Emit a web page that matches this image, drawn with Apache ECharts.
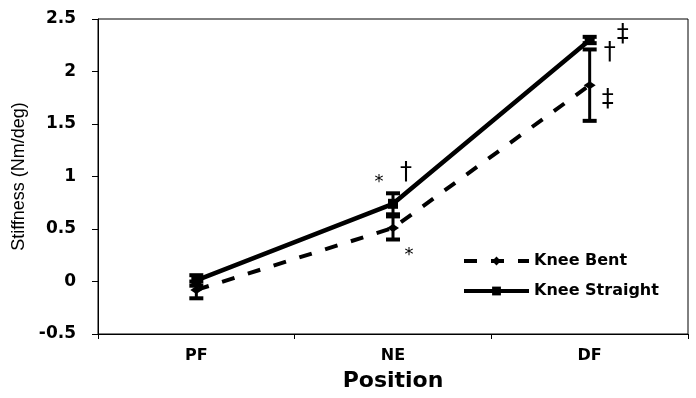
<!DOCTYPE html>
<html>
<head>
<meta charset="utf-8">
<script src="https://cdn.jsdelivr.net/npm/echarts@6/dist/echarts.min.js"></script>
<style>html,body{margin:0;padding:0;background:#fff;}#c{width:696px;height:398px;}</style>
</head>
<body>
<div id="c"></div>
<script>
// ---- data ----
var categories = ['PF', 'NE', 'DF'];
var bentMean = [-0.08, 0.51, 1.87];
var bentErr = [0.08, 0.11, 0.34];
var straightMean = [0.01, 0.74, 2.30];
var straightErr = [0.05, 0.10, 0.03];
var yTicks = [-0.5, 0, 0.5, 1, 1.5, 2, 2.5];
// significance markers: category, anchor value, symbol
var markCats = ['NE', 'NE', 'NE', 'DF', 'DF', 'DF'];
var markVals = [0.94, 1.04, 0.25, 2.35, 2.18, 1.73];
var markText = ['*', '\u2020', '*', '\u2021', '\u2020', '\u2021'];
var markDx = [-14, 13, 16, 33, 20, 18];

var chart = echarts.init(document.getElementById('c'));

function errData(mean, err) {
  return mean.map(function (m, i) { return [i, m - err[i], m + err[i]]; });
}
function errRender(capW) {
  return function (params, api) {
    var i = api.value(0);
    var lo = api.coord([i, api.value(1)]);
    var hi = api.coord([i, api.value(2)]);
    var st = { stroke: '#000', lineWidth: 3 };
    var cst = { stroke: '#000', lineWidth: 4 };
    return {
      type: 'group',
      children: [
        { type: 'line', shape: { x1: lo[0], y1: lo[1], x2: hi[0], y2: hi[1] }, style: st },
        { type: 'line', shape: { x1: lo[0] - capW / 2, y1: lo[1], x2: lo[0] + capW / 2, y2: lo[1] }, style: cst },
        { type: 'line', shape: { x1: hi[0] - capW / 2, y1: hi[1], x2: hi[0] + capW / 2, y2: hi[1] }, style: cst }
      ]
    };
  };
}

var markData = markCats.map(function (c, i) {
  return [categories.indexOf(c), markVals[i], markText[i], markDx[i]];
});

var option = {
  animation: false,
  backgroundColor: '#fff',
  grid: { left: 98, right: 8, top: 19, bottom: 64, show: true, borderColor: '#000', borderWidth: 1, backgroundColor: 'transparent' },
  legend: {
    data: ['Knee Bent', 'Knee Straight'],
    orient: 'vertical',
    left: 462,
    top: 253,
    padding: 0,
    itemWidth: 65,
    itemHeight: 11,
    itemGap: 14,
    lineStyle: { width: 4 },
    textStyle: { fontFamily: 'DejaVu Sans', fontWeight: 'bold', fontSize: 16, color: '#000' }
  },
  xAxis: {
    type: 'category',
    data: categories,
    boundaryGap: true,
    axisLine: { onZero: false, lineStyle: { color: '#000', width: 1 } },
    axisTick: { show: true, length: 5, lineStyle: { color: '#000' } },
    axisLabel: { margin: 14, fontFamily: 'DejaVu Sans', fontWeight: 'bold', fontSize: 16, color: '#000' },
    name: 'Position',
    nameLocation: 'middle',
    nameGap: 36,
    nameTextStyle: { fontFamily: 'DejaVu Sans', fontWeight: 'bold', fontSize: 22, color: '#000' },
    splitLine: { show: false }
  },
  yAxis: {
    type: 'value',
    min: yTicks[0],
    max: yTicks[yTicks.length - 1],
    interval: 0.5,
    axisLine: { show: true, lineStyle: { color: '#000', width: 1 } },
    axisTick: { show: true, length: 6, lineStyle: { color: '#000' } },
    axisLabel: { margin: 22, fontFamily: 'DejaVu Sans', fontWeight: 'bold', fontSize: 17, color: '#000' },
    splitLine: { show: false },
    name: 'Stiffness (Nm/deg)',
    nameLocation: 'middle',
    nameGap: 69,
    nameTextStyle: { fontFamily: 'Liberation Sans', fontSize: 18, color: '#000' }
  },
  series: [
    {
      name: 'Knee Bent',
      type: 'line',
      data: bentMean,
      symbol: 'diamond',
      symbolSize: [12, 8],
      itemStyle: { color: '#000' },
      lineStyle: { color: '#000', width: 4, type: [13, 14] },
      z: 2
    },
    {
      name: 'bentErr',
      type: 'custom',
      data: errData(bentMean, bentErr),
      renderItem: errRender(14),
      z: 3
    },
    {
      name: 'Knee Straight',
      type: 'line',
      data: straightMean,
      symbol: 'rect',
      symbolSize: 10,
      itemStyle: { color: '#000' },
      lineStyle: { color: '#000', width: 4.5 },
      z: 4
    },
    {
      name: 'straightErr',
      type: 'custom',
      data: errData(straightMean, straightErr),
      renderItem: errRender(14),
      z: 5
    },
    {
      name: 'marks',
      type: 'custom',
      data: markData,
      renderItem: function (params, api) {
        var p = api.coord([api.value(0), api.value(1)]);
        var d = markData[params.dataIndex];
        var t = d[2];
        return {
          type: 'text',
          x: p[0] + d[3],
          y: p[1],
          style: {
            text: t,
            x: 0, y: 0,
            textAlign: 'center',
            textVerticalAlign: 'middle',
            fill: '#000',
            font: (t === '*' ? '18px "DejaVu Sans"' : '24px "DejaVu Sans"')
          }
        };
      },
      z: 6
    }
  ]
};
chart.setOption(option);
</script>
</body>
</html>
